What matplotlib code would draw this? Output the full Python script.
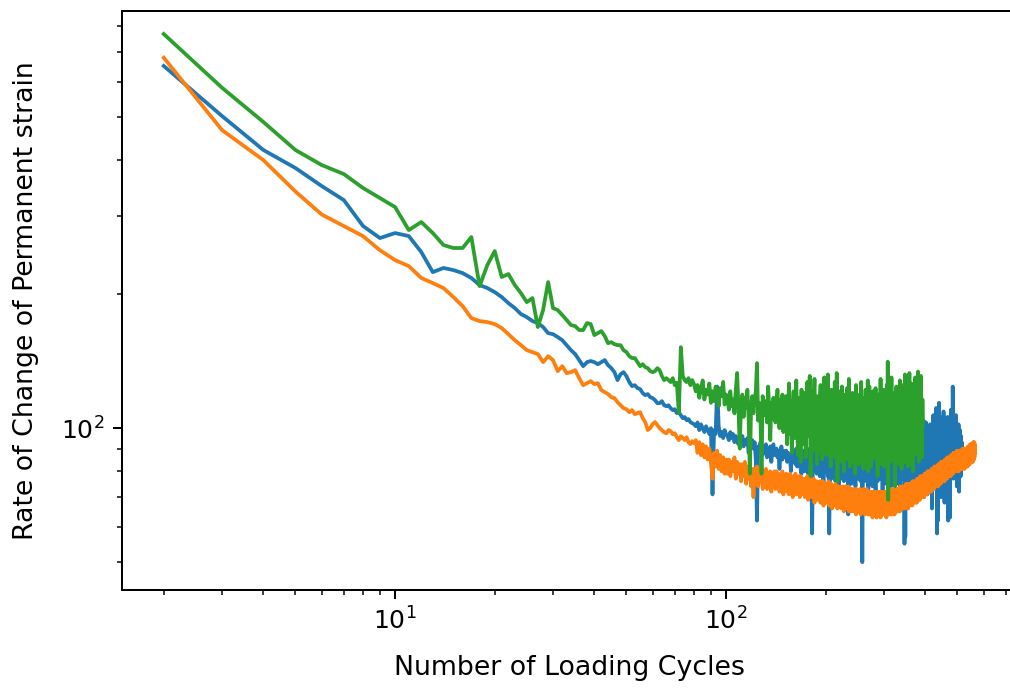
import numpy as np
import matplotlib
matplotlib.use("Agg")
import matplotlib.pyplot as plt

# Rate of change of permanent strain per loading cycle (cycles start at 2)
series_a = [
    651, 502.5, 421.5, 384, 349.9, 325.3, 284.5, 267.3, 274.3, 270.1,
    248.6, 224.1, 229, 226.5, 223, 217.4, 209.6, 206.4, 202.1, 197,
    190.9, 186.1, 180.4, 177.6, 174, 172.2, 168.7, 163.5, 162.6, 160.2,
    157.6, 153.6, 149.7, 146.7, 142.2, 137.8, 140.7, 141.5, 140.7, 139.2,
    140.7, 142.2, 138.5, 136.4, 133.6, 128.2, 132.2, 133.6, 130.9, 126.9,
    124.3, 124.9, 123, 122.4, 119.9, 118.6, 119.3, 117.4, 116.8, 115.6,
    113.8, 113.8, 115, 112.6, 112, 112.6, 110.9, 109.8, 110.3, 108.1,
    108.6, 106.9, 105.3, 105.9, 104.2, 104.8, 103.2, 102.6, 102.1,
    101, 103, 99, 102, 100, 98, 101, 99, 97, 100,
    71, 99, 97, 124, 101, 96, 98, 95, 99, 97,
    96, 94, 98, 95, 97, 93, 96, 94, 92, 95,
    93, 96, 91, 94, 92, 95, 88, 93, 91, 94,
    90, 93, 85, 62, 91, 89, 93, 90, 87, 91,
    89, 92, 86, 90, 88, 91, 84, 89, 92, 87,
    88, 90, 86, 89, 81, 88, 91, 85, 89, 87,
    86, 89, 84, 88, 85, 87, 80, 88, 86, 84,
    88, 83, 90, 82, 87, 84, 91, 81, 79, 86,
    83, 89, 80, 87, 82, 90, 79, 86, 84, 88,
    81, 58, 86, 80, 89, 83, 97, 79, 87, 82,
    85, 78, 88, 81, 86, 79, 74, 84, 89, 80,
    83, 87, 78, 86, 58, 82, 89, 77, 85, 81,
    86, 79, 88, 76, 84, 81, 87, 78, 72, 85,
    80, 87, 77, 84, 81, 88, 76, 83, 79, 86,
    82, 77, 85, 64, 80, 87, 78, 84, 75, 83,
    79, 86, 77, 84, 80, 74, 85, 78, 94, 82,
    77, 84, 80, 86, 76, 83, 88, 50, 79, 85,
    81, 76, 86, 79, 84, 77, 87, 80, 73, 84,
    78, 86, 76, 83, 80, 88, 74, 82, 85, 77,
    84, 79, 72, 86, 80, 83, 76, 87, 78, 82,
    85, 77, 88, 79, 83, 86, 68, 81, 78, 87,
    76, 84, 80, 89, 75, 83, 86, 78, 82, 77,
    85, 88, 79, 83, 74, 87, 81, 77, 86, 80,
    89, 76, 84, 92, 79, 86, 81, 75, 88, 83,
    78, 90, 82, 86, 74, 84, 93, 80, 87, 77,
    85, 95, 79, 88, 81, 55, 86, 57, 83, 90,
    78, 87, 82, 96, 80, 74, 91, 83, 88, 77,
    92, 84, 78, 89, 81, 97, 86, 72, 85, 93,
    80, 88, 98, 83, 91, 76, 87, 94, 79, 86,
    99, 82, 90, 75, 95, 84, 78, 92, 85, 101,
    83, 70, 94, 86, 104, 81, 77, 96, 88, 91,
    84, 103, 89, 79, 97, 71, 92, 100, 85, 78,
    95, 87, 102, 80, 74, 98, 86, 93, 66, 90,
    99, 83, 107, 88, 76, 96, 85, 104, 79, 91,
    111, 87, 80, 58, 95, 84, 62, 100, 89, 114,
    92, 78, 106, 86, 97, 70, 94, 83, 101, 88,
    76, 96, 89, 109, 82, 93, 68, 99, 87, 94,
    80, 103, 88, 75, 97, 90, 106, 84, 62, 92,
    98, 81, 94, 86, 63, 96, 88, 110, 79, 93,
    87, 100, 82, 124, 91, 77, 96, 85, 104, 88,
    93, 79, 99, 86, 107, 83, 90, 74, 97, 88,
    84, 95, 80, 102, 89, 72, 93, 86, 99, 82,
    91, 78, 96, 87, 93, 85,
]

series_b = [
    679.4, 467.3, 400, 340, 302, 284.5, 270, 251, 238.5, 231.2,
    217.4, 211.8, 206.4, 197, 188, 176.7, 174, 173.1, 171.3, 167.8,
    162.6, 157.6, 153.6, 149.7, 148.2, 146.7, 140.7, 145.1, 142.2, 134.3,
    137.8, 132.9, 133.6, 135, 129.5, 124.9, 126.2, 127.5, 125.6, 126.2,
    121.7, 120.5, 119.3, 117.4, 116.8, 114.4, 112.6, 110.9, 110.3, 108.6,
    109.8, 107.5, 108.1, 108.6, 105.3, 103.2, 99, 100, 102.1, 103.2,
    101.6, 100, 99, 97.9, 97.4, 99, 98.5, 96.9, 97.4, 95.4,
    94, 95.9, 95, 94, 95.4, 93, 92.1, 93.5, 92.5,
    94, 88, 93, 87, 92, 86, 91, 85, 90, 84,
    77, 88, 82, 89, 81, 87, 80, 86, 79, 85,
    79, 85, 78, 84, 80, 86, 77, 84, 79, 83,
    76, 83, 78, 84, 75, 82, 77, 83, 74, 81,
    70, 81, 75, 82, 74, 80, 76, 81, 73, 80,
    74, 81, 73, 79, 75, 80, 72, 79, 74, 80,
    73, 80, 74, 79, 72, 78, 75, 80, 71, 78,
    73, 79, 72, 78, 71, 79, 74, 78, 70, 77,
    72, 79, 71, 77, 73, 78, 70, 78, 72, 76,
    71, 77, 70, 76, 72, 78, 69, 76, 71, 77,
    70, 76, 71, 77, 68, 75, 71, 76, 69, 75,
    70, 76, 68, 75, 71, 76, 67, 75, 70, 74,
    68, 75, 69, 76, 67, 74, 69, 75, 66, 74,
    68, 74, 67, 75, 68, 73, 66, 74, 68, 73,
    67, 74, 66, 73, 68, 74, 65, 73, 67, 74,
    66, 73, 67, 74, 65, 72, 67, 73, 65, 73,
    67, 72, 65, 73, 66, 72, 64, 73, 67, 72,
    65, 72, 66, 73, 64, 72, 66, 71, 65, 73,
    66, 72, 64, 71, 66, 73, 65, 71, 64, 72,
    66, 71, 64, 72, 65, 71, 63, 72, 66, 71,
    64, 72, 65, 71, 63, 71, 66, 72, 64, 71,
    65, 72, 63, 71, 66, 72, 64, 71, 65, 70,
    64, 72, 65, 71, 63, 71, 66, 72, 64, 71,
    65, 72, 64, 71, 66, 73, 64, 72, 65, 71,
    66, 73, 64, 72, 66, 72, 65, 73, 66, 72,
    65, 73, 67, 72, 65, 74, 66, 73, 67, 72,
    66, 74, 67, 73, 66, 74, 68, 73, 66, 75,
    67, 74, 68, 73, 66, 75, 68, 74, 67, 75,
    68, 75, 69, 74, 67, 76, 69, 75, 68, 76,
    69, 75, 68, 76, 70, 75, 68, 77, 70, 76,
    69, 77, 70, 76, 69, 78, 71, 77, 70, 78,
    71, 77, 70, 78, 72, 77, 70, 79, 72, 78,
    71, 79, 73, 78, 71, 80, 73, 79, 72, 80,
    73, 79, 72, 80, 74, 79, 72, 81, 74, 80,
    73, 81, 74, 80, 73, 82, 75, 81, 74, 82,
    75, 81, 74, 82, 76, 81, 74, 83, 76, 82,
    75, 83, 76, 82, 75, 84, 77, 83, 76, 84,
    77, 83, 76, 84, 78, 83, 76, 85, 78, 84,
    77, 85, 78, 84, 77, 86, 79, 85, 78, 86,
    79, 85, 78, 86, 80, 85, 78, 87, 80, 86,
    79, 87, 80, 86, 79, 88, 81, 87, 80, 88,
    81, 87, 80, 88, 82, 87, 80, 89, 82, 88,
    81, 88, 82, 87, 80, 89, 82, 88, 81, 89,
    82, 88, 81, 89, 83, 88, 81, 90, 83, 89,
    82, 89, 83, 88, 81, 90, 83, 89, 82, 90,
    83, 89, 82, 90, 84, 89, 82, 91, 84, 90,
    83, 91, 84, 90, 83, 92, 85, 91, 84, 92,
    85, 91, 84, 92, 86, 91, 84, 93, 86, 92,
    85, 93, 86, 92, 88,
]

series_c = [
    768, 581.6, 487.2, 421.5, 390, 372.2, 346.3, 328.8, 313.8, 278.6,
    290.4, 274.3, 257.8, 253.9, 253.9, 268.7, 208.5, 232.5, 249.9, 218.5,
    221.9, 209.6, 201.1, 191.9, 196, 168.7, 184.2, 212.9, 186.1, 184.2,
    179.5, 174.9, 170.4, 169.5, 166.1, 166.1, 172.2, 171.3, 161.8, 163.5,
    165.2, 161, 155.2, 156, 154.4, 153.6, 153.6, 149.7, 148.2, 145.1,
    143.7, 143.7, 140.7, 137.8, 139.2, 137.1, 136.4, 134.3, 133.6, 134.3,
    136.4, 135, 130.9, 128.2, 129.5, 128.2, 126.9, 129.5, 124.9, 126.5,
    108.1, 152, 130.9, 128.2, 126.9, 129.5, 124.9, 128.2, 125.6,
    121, 125, 117, 123, 128, 116, 122, 119, 126, 114,
    121, 115, 124, 117, 112, 123, 118, 127, 113, 119,
    117, 110, 121, 112, 116, 108, 122, 133, 111, 90,
    114, 119, 106, 117, 111, 122, 105, 79, 112, 118,
    108, 116, 121, 140, 104, 114, 107, 79, 118, 110,
    107, 115, 103, 124, 110, 94, 114, 105, 117, 108,
    103, 113, 122, 106, 100, 116, 108, 119, 98, 111,
    104, 118, 92, 112, 126, 97, 115, 88, 108, 121,
    95, 113, 128, 99, 87, 117, 106, 84, 122, 100,
    114, 92, 120, 86, 110, 127, 96, 116, 131, 78,
    102, 121, 89, 112, 129, 94, 114, 83, 118, 99,
    88, 115, 125, 96, 85, 119, 101, 130, 91, 112,
    87, 118, 132, 98, 90, 116, 82, 122, 97, 89,
    117, 94, 127, 86, 111, 133, 76, 103, 121, 92,
    84, 114, 97, 124, 89, 110, 80, 119, 95, 87,
    113, 123, 85, 101, 129, 91, 82, 117, 98, 88,
    120, 84, 104, 116, 79, 109, 125, 93, 86, 114,
    97, 83, 119, 102, 88, 127, 86, 101, 117, 81,
    96, 115, 87, 122, 84, 108, 92, 128, 80, 111,
    124, 90, 106, 82, 118, 97, 85, 121, 93, 110,
    86, 104, 123, 89, 112, 94, 78, 116, 96, 119,
    87, 109, 129, 92, 83, 114, 99, 88, 122, 95,
    82, 112, 97, 118, 87, 125, 101, 141, 69, 98,
    115, 90, 121, 84, 106, 130, 89, 110, 94, 117,
    86, 120, 98, 74, 111, 91, 124, 87, 104, 118,
    93, 83, 116, 99, 128, 89, 108, 121, 81, 103,
    114, 90, 125, 86, 109, 96, 132, 84, 115, 99,
    88, 119, 102, 82, 123, 94, 111, 133, 83, 113,
    98, 89, 126, 91, 114, 101, 80, 121, 95, 117,
    87, 108, 130, 93, 112, 88, 124, 97, 115, 134,
    92, 113, 84, 125, 100, 119, 89, 131, 96, 110,
    86, 116, 102,
]

first_cycle = 2

W, H, DPI = 1011, 688, 180
fig = plt.figure(figsize=(W / DPI, H / DPI), dpi=DPI)
ax = fig.add_axes([122 / W, (H - 590) / H, (1016 - 122) / W, (590 - 11) / H])

for vals in (series_a, series_b, series_c):
    cycles = np.arange(first_cycle, first_cycle + len(vals))
    ax.plot(cycles, vals)

ax.set_xscale("log")
ax.set_yscale("log")
ax.set_xlim(1.496, 751.6)
ax.set_ylim(43.3, 865)
ax.spines["right"].set_visible(False)

ax.set_xlabel("Number of Loading Cycles", fontsize=10.7, labelpad=8)
ax.set_ylabel("Rate of Change of Permanent strain", fontsize=10.7, labelpad=9)

fig.savefig("out.png", dpi=DPI)
